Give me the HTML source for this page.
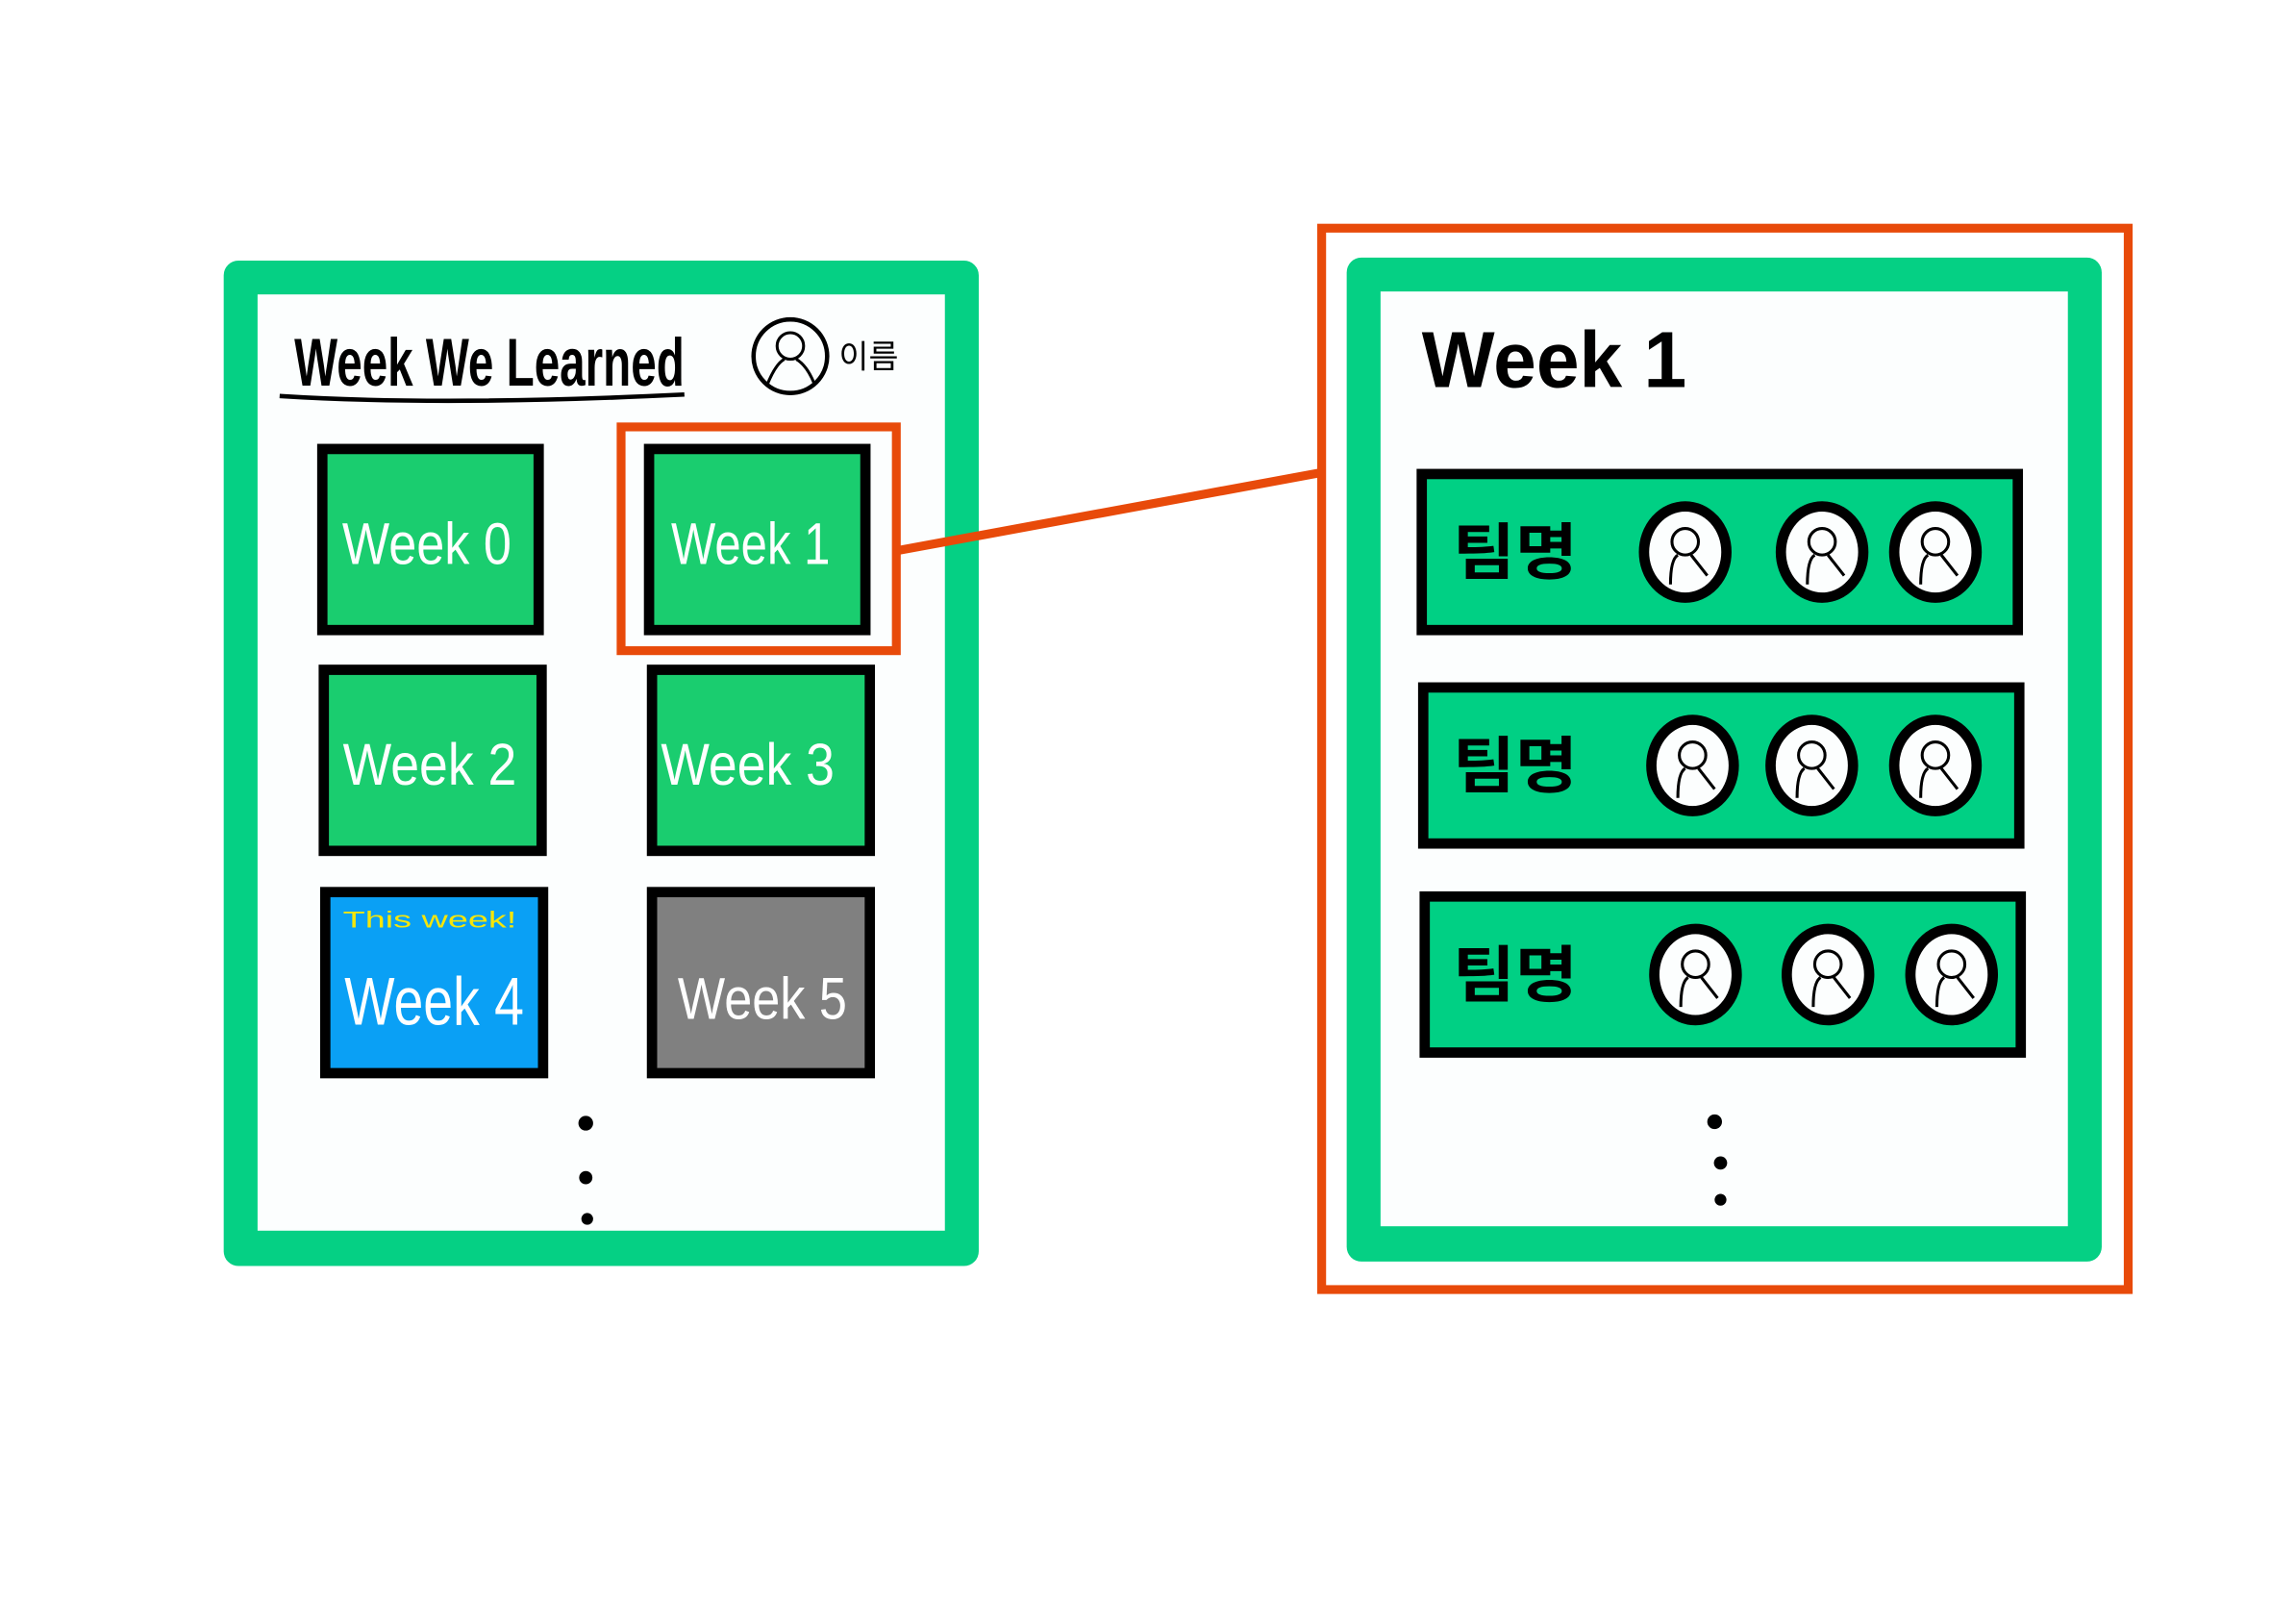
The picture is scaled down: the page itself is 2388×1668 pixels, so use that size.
<!DOCTYPE html>
<html><head><meta charset="utf-8"><style>
html,body{margin:0;padding:0;background:#fff;}
svg{display:block;}
text{font-family:"Liberation Sans","Noto Sans CJK KR",sans-serif;}
</style></head><body>
<svg width="2388" height="1668" viewBox="0 0 1560 1089.6" preserveAspectRatio="none" xmlns="http://www.w3.org/2000/svg">
<rect x="0" y="0" width="1560" height="1090" fill="#ffffff"/>

<g>
  <rect x="152" y="177" width="513" height="683" rx="10" fill="#05d084"/>
  <rect x="175" y="200" width="467" height="636" fill="#fcfefe"/>
</g>
<text x="200" y="262" font-size="46" font-weight="bold" fill="#000" textLength="265" lengthAdjust="spacingAndGlyphs">Week We Learned</text>
<path d="M190 269 Q300 276 465 268" stroke="#000" stroke-width="3" fill="none"/>
<g>
  <ellipse cx="537" cy="242" rx="25" ry="25" fill="none" stroke="#000" stroke-width="3"/>
  <circle cx="537" cy="235" r="9" fill="none" stroke="#000" stroke-width="2"/>
  <path d="M521 262 Q527 247 533 244 M541 244 Q548 248 553 260" fill="none" stroke="#000" stroke-width="2"/>
</g>
<text x="570" y="250" font-size="22" fill="#000">이름</text>

<g>
  <rect x="219" y="305" width="147" height="123" fill="#1acd6f" stroke="#000" stroke-width="7"/>
  <text x="290" y="383" font-size="40" fill="#fff" text-anchor="middle" textLength="115" lengthAdjust="spacingAndGlyphs">Week 0</text>
</g>
<g>
  <rect x="441" y="305" width="147" height="123" fill="#1acd6f" stroke="#000" stroke-width="7"/>
  <text x="510" y="383" font-size="40" fill="#fff" text-anchor="middle" textLength="108" lengthAdjust="spacingAndGlyphs">Week 1</text>
</g>
<rect x="422" y="290" width="187" height="152" fill="none" stroke="#e84a0a" stroke-width="6"/>
<g>
  <rect x="220" y="455" width="148" height="123" fill="#1acd6f" stroke="#000" stroke-width="7"/>
  <text x="292" y="533" font-size="40" fill="#fff" text-anchor="middle" textLength="118" lengthAdjust="spacingAndGlyphs">Week 2</text>
</g>
<g>
  <rect x="443" y="455" width="148" height="123" fill="#1acd6f" stroke="#000" stroke-width="7"/>
  <text x="508" y="533" font-size="40" fill="#fff" text-anchor="middle" textLength="118" lengthAdjust="spacingAndGlyphs">Week 3</text>
</g>
<g>
  <rect x="221" y="606" width="148" height="123" fill="#0aa0f5" stroke="#000" stroke-width="7"/>
  <text x="233" y="630" font-size="16" fill="#f5e60a" textLength="118" lengthAdjust="spacingAndGlyphs">This week!</text>
  <text x="295" y="696" font-size="46" fill="#fff" text-anchor="middle" textLength="122" lengthAdjust="spacingAndGlyphs">Week 4</text>
</g>
<g>
  <rect x="443" y="606" width="148" height="123" fill="#808080" stroke="#000" stroke-width="7"/>
  <text x="518" y="692" font-size="40" fill="#fff" text-anchor="middle" textLength="115" lengthAdjust="spacingAndGlyphs">Week 5</text>
</g>
<g fill="#000">
  <circle cx="398" cy="763" r="5"/><circle cx="398" cy="800" r="4.5"/><circle cx="399" cy="828" r="4"/>
</g>

<path d="M610 374 L898 321" stroke="#e84a0a" stroke-width="6" fill="none"/>

<rect x="898" y="155" width="548" height="721" fill="none" stroke="#e84a0a" stroke-width="6"/>
<g>
  <rect x="915" y="175" width="513" height="682" rx="10" fill="#05d084"/>
  <rect x="938" y="198" width="467" height="635" fill="#fcfefe"/>
</g>
<text x="966" y="263" font-size="54" font-weight="bold" fill="#000" textLength="180" lengthAdjust="spacingAndGlyphs">Week 1</text>

<g id="rows"></g>
<g fill="#000">
  <circle cx="1165" cy="762" r="5"/><circle cx="1169" cy="790" r="4.5"/><circle cx="1169" cy="815" r="4"/>
</g>
<script>
const teamRowsY = [322, 467, 609];
const teamNames = ["팀명", "팀명", "팀명"];
const avatarX = [[1145, 1238, 1315], [1150, 1231, 1315], [1152, 1242, 1326]];
const NS = "http://www.w3.org/2000/svg";
const g = document.getElementById("rows");
function mk(tag, attrs, parent) {
  const e = document.createElementNS(NS, tag);
  for (const k in attrs) e.setAttribute(k, attrs[k]);
  parent.appendChild(e);
  return e;
}
teamRowsY.forEach((y, i) => {
  const row = document.createElementNS(NS, "g");
  
  
  g.appendChild(row);
  mk("rect", {x: 966 + i, y: y, width: 405, height: 106, fill: "#00d084", stroke: "#000", "stroke-width": 7}, row);
  const t = document.createElementNS(NS, "text");
  
  
  t.setAttribute("x", 987); t.setAttribute("y", y + 68);
  t.setAttribute("font-size", "42"); t.setAttribute("font-weight", "bold");
  t.setAttribute("textLength", "85"); t.setAttribute("lengthAdjust", "spacingAndGlyphs");
  t.textContent = teamNames[i];
  row.appendChild(t);
  avatarX[i].forEach(cx => {
    const a = document.createElementNS(NS, "g");
    
    
    row.appendChild(a);
    const cy = y + 53;
    mk("ellipse", {cx: cx, cy: cy, rx: 28, ry: 31, fill: "#fcfefe", stroke: "#000", "stroke-width": 7}, a);
    mk("circle", {cx: cx, cy: cy - 7, r: 9, fill: "none", stroke: "#000", "stroke-width": 2}, a);
    mk("path", {d: "M" + (cx - 10) + " " + (cy + 22) + " Q" + (cx - 10) + " " + (cy + 5) + " " + (cx - 5) + " " + (cy + 2) + " M" + (cx + 4) + " " + (cy + 2) + " L" + (cx + 15) + " " + (cy + 16), fill: "none", stroke: "#000", "stroke-width": 2}, a);
  });
});
</script>
</svg>
</body></html>
